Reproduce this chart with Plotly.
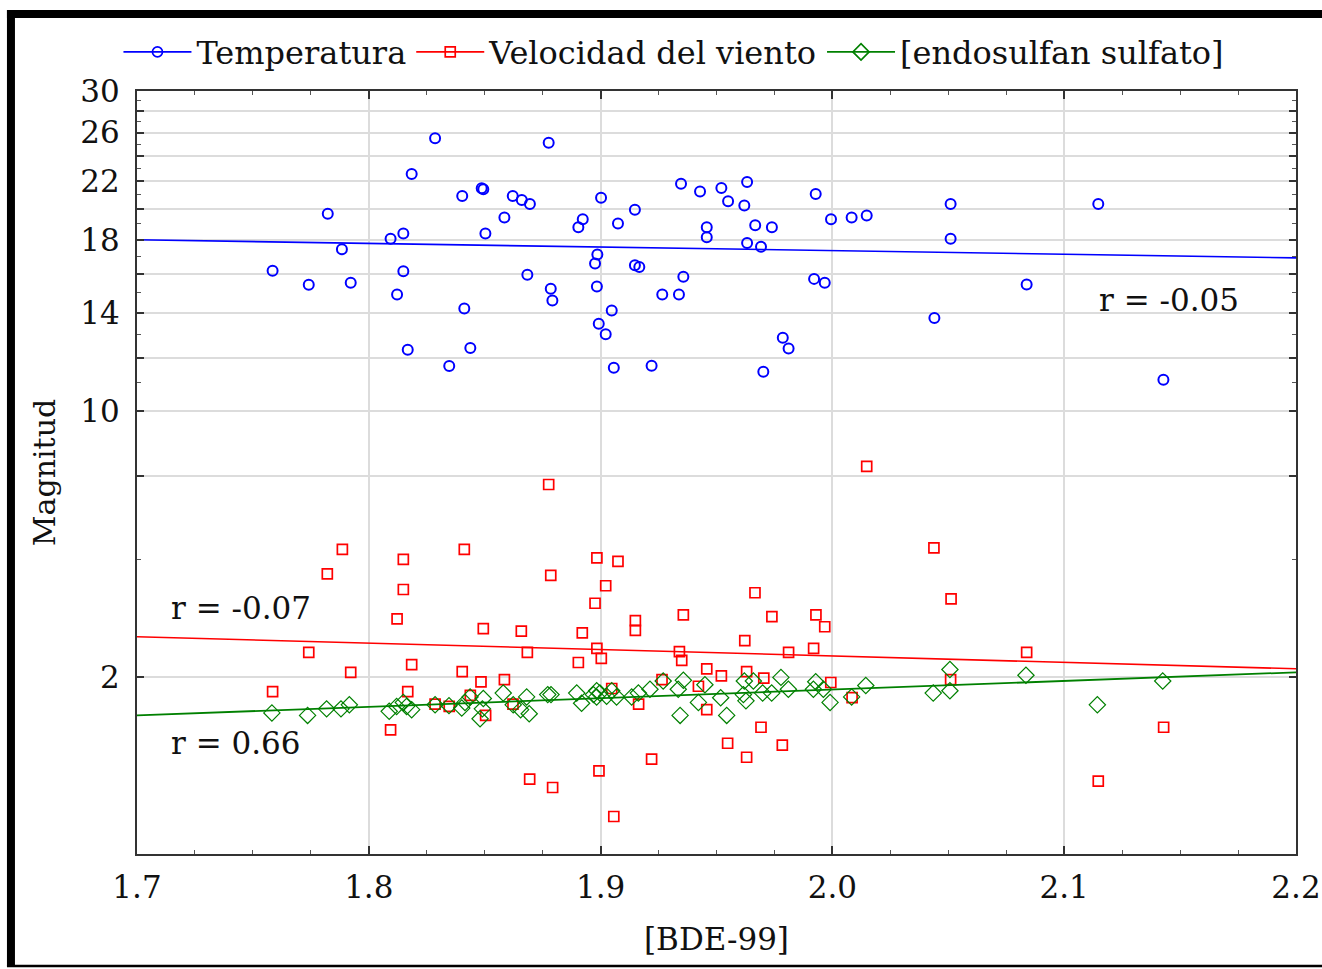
import plotly.graph_objects as go

# ---------------- data ----------------
temp_x = [1.8286, 1.8776, 1.8185, 1.7823, 1.8403, 1.8487, 1.8494, 1.8621, 1.8660, 1.8695,
          1.9002, 1.9347, 1.9429, 1.8585, 1.8923, 1.8904, 1.9075, 1.9148, 1.8149, 1.8094,
          1.8503, 1.7884, 1.7585, 1.7741, 1.7922, 1.8149, 1.8122, 1.8684, 1.8785, 1.8792,
          1.8986, 1.8976, 1.9148, 1.9167, 1.9357, 1.8984, 1.9266, 1.9338, 1.8412, 1.9048,
          1.8992, 1.9022, 1.8168, 1.8438, 1.8347, 1.9057, 1.9220, 1.9521, 1.9632, 1.9550,
          1.9620, 1.9928, 1.9458, 1.9458, 1.9667, 1.9739, 1.9994, 2.0083, 2.0148, 2.0510,
          2.1147, 2.0510, 1.9632, 1.9692, 1.9921, 1.9967, 2.0838, 2.0440, 1.9786, 1.9811,
          1.9702, 2.1428]
temp_y = [25.50, 25.12, 22.56, 19.67, 20.92, 21.48, 21.41, 20.92, 20.63, 20.35,
          20.78, 21.82, 21.24, 19.42, 19.31, 18.79, 19.02, 19.94, 18.38, 18.05,
          18.38, 17.42, 16.17, 15.41, 15.52, 16.15, 14.91, 15.95, 15.20, 14.60,
          17.10, 16.58, 16.49, 16.39, 15.84, 15.32, 14.91, 14.91, 14.21, 14.11,
          13.48, 13.01, 12.33, 12.40, 11.66, 11.59, 11.67, 21.50, 21.95, 20.54,
          20.24, 21.06, 18.79, 18.15, 18.92, 18.79, 19.31, 19.42, 19.55, 20.35,
          20.35, 18.05, 17.80, 17.56, 15.73, 15.52, 15.43, 13.75, 12.85, 12.38,
          11.43, 11.12]

wind_x = [1.8776, 1.7886, 1.7821, 1.8149, 1.8149, 1.8122, 1.8412, 1.8984, 1.9075, 1.8785,
          1.9022, 1.8976, 1.8494, 1.8658, 1.8921, 1.9150, 1.9150, 1.9357, 1.7741, 1.7922,
          1.8185, 1.8403, 1.8684, 1.8904, 1.8984, 1.9003, 1.9340, 1.9350, 1.8484, 1.8585,
          1.7585, 1.8168, 1.8438, 1.8286, 1.8347, 1.8622, 1.8504, 1.9048, 1.9265, 1.9422,
          1.9164, 1.8094, 1.9220, 1.8993, 1.8694, 1.8793, 1.9057, 2.0148, 2.0438, 2.0512,
          1.9666, 1.9739, 1.9929, 1.9967, 1.9622, 1.9811, 1.9919, 2.0838, 1.9458, 1.9521,
          1.9630, 1.9704, 1.9993, 2.0510, 2.0085, 1.9458, 1.9692, 1.9548, 1.9784, 1.9630,
          2.1429, 2.1147]
wind_y = [7.76, 6.21, 5.71, 6.00, 5.41, 4.89, 6.21, 6.03, 5.96, 5.68,
          5.48, 5.16, 4.73, 4.69, 4.66, 4.86, 4.70, 4.96, 4.36, 4.07,
          4.18, 4.08, 4.36, 4.21, 4.42, 4.27, 4.37, 4.24, 3.94, 3.97,
          3.81, 3.81, 3.76, 3.65, 3.62, 3.65, 3.51, 3.85, 3.97, 3.88,
          3.65, 3.34, 3.02, 2.90, 2.82, 2.74, 2.48, 8.26, 6.24, 5.24,
          5.35, 4.93, 4.96, 4.76, 4.54, 4.36, 4.42, 4.36, 4.12, 4.02,
          4.08, 3.99, 3.93, 3.97, 3.73, 3.58, 3.37, 3.19, 3.17, 3.04,
          3.37, 2.80]

endo_x = [1.7582, 1.7736, 1.7818, 1.7880, 1.7916, 1.8088, 1.8120, 1.8149, 1.8163, 1.8185,
          1.8286, 1.8346, 1.8401, 1.8415, 1.8437, 1.8494, 1.8480, 1.8490, 1.8580, 1.8623,
          1.8655, 1.8681, 1.8692, 1.8772, 1.8786, 1.8897, 1.8918, 1.8969, 1.8983, 1.8997,
          1.8983, 1.9026, 1.9048, 1.9069, 1.9134, 1.9163, 1.9213, 1.9270, 1.9335, 1.9357,
          1.9343, 1.9422, 1.9450, 1.9518, 1.9544, 1.9616, 1.9627, 1.9620, 1.9659, 1.9699,
          1.9738, 1.9778, 1.9810, 1.9918, 1.9928, 1.9961, 1.9990, 2.0083, 2.0144, 2.0435,
          2.0507, 2.0507, 2.0835, 2.1143, 2.1425]
endo_y = [3.54, 3.51, 3.59, 3.59, 3.64, 3.56, 3.62, 3.67, 3.62, 3.58,
          3.64, 3.63, 3.60, 3.67, 3.74, 3.72, 3.47, 3.59, 3.79, 3.64,
          3.58, 3.74, 3.53, 3.77, 3.77, 3.79, 3.66, 3.77, 3.74, 3.79,
          3.82, 3.75, 3.82, 3.74, 3.74, 3.79, 3.84, 3.95, 3.84, 3.96,
          3.51, 3.67, 3.90, 3.73, 3.51, 3.77, 3.69, 3.95, 3.95, 3.79,
          3.79, 4.00, 3.84, 3.84, 3.94, 3.84, 3.67, 3.74, 3.89, 3.79,
          4.11, 3.82, 4.03, 3.64, 3.95]

# fitted lines (end values)
fit_x = [1.7, 2.2]
temp_fit = [17.99, 16.91]
wind_fit = [4.60, 4.12]
endo_fit = [3.51, 4.07]

series_names = ["Temperatura", "Velocidad del viento", "[endosulfan sulfato]"]
r_labels = ["r = -0.05", "r = -0.07", "r = 0.66"]

x_ticks = [1.7, 1.8, 1.9, 2.0, 2.1, 2.2]
x_ticktext = ["1.7", "1.8", "1.9", "2.0", "2.1", "2.2"]
y_ticks = [4, 8, 10, 12, 14, 16, 18, 20, 22, 24, 26, 28, 30]
y_ticktext = ["2", "", "10", "", "14", "", "18", "", "22", "", "26", "", "30"]
y_minor = [6, 11, 13, 15, 17, 19, 21, 23, 25, 27, 29]

BLUE = "#0000ff"
RED = "#ff0000"
GREEN = "#008000"
FONT = "DejaVu Serif"
TXT = "#111111"

fig = go.Figure()

# data points
fig.add_trace(go.Scatter(x=temp_x, y=temp_y, mode="markers", showlegend=False,
                         marker=dict(symbol="circle-open", size=10, color=BLUE,
                                     line=dict(width=2, color=BLUE))))
fig.add_trace(go.Scatter(x=wind_x, y=wind_y, mode="markers", showlegend=False,
                         marker=dict(symbol="square-open", size=10, color=RED,
                                     line=dict(width=1.7, color=RED))))
fig.add_trace(go.Scatter(x=endo_x, y=endo_y, mode="markers", showlegend=False,
                         marker=dict(symbol="diamond-open", size=12.5, color=GREEN,
                                     line=dict(width=1.2, color=GREEN))))

# fitted lines
fig.add_trace(go.Scatter(x=fit_x, y=temp_fit, mode="lines", showlegend=False,
                         line=dict(color=BLUE, width=1.6)))
fig.add_trace(go.Scatter(x=fit_x, y=wind_fit, mode="lines", showlegend=False,
                         line=dict(color=RED, width=1.6)))
fig.add_trace(go.Scatter(x=fit_x, y=endo_fit, mode="lines", showlegend=False,
                         line=dict(color=GREEN, width=1.8)))

# legend entries
for name, col, sym, sz in [(series_names[0], BLUE, "circle-open", 10),
                           (series_names[1], RED, "square-open", 10),
                           (series_names[2], GREEN, "diamond-open", 12.5)]:
    fig.add_trace(go.Scatter(x=[None], y=[None], mode="lines+markers", name=name,
                             line=dict(color=col, width=1.6),
                             marker=dict(symbol=sym, size=sz, color=col,
                                         line=dict(width=1.7, color=col))))

fig.update_layout(
    width=1322, height=969,
    margin=dict(l=137, r=26, t=91, b=115, autoexpand=False),
    paper_bgcolor="white", plot_bgcolor="white",
    font=dict(family=FONT, size=30, color=TXT),
    showlegend=True,
    legend=dict(orientation="h", x=-0.016, xanchor="left", y=1.051, yanchor="middle",
                font=dict(family=FONT, size=32, color=TXT),
                bgcolor="rgba(0,0,0,0)", itemwidth=68, tracegroupgap=0),
)

fig.update_xaxes(
    range=[1.7, 2.2], tickmode="array", tickvals=x_ticks, ticktext=x_ticktext,
    ticks="inside", ticklen=8, tickwidth=1.5, tickcolor="#333333",
    ticklabelstandoff=5,
    tickfont=dict(family=FONT, size=31, color=TXT),
    showgrid=True, gridcolor="#dcdcdc", gridwidth=2, zeroline=False,
    showline=True, linecolor="#333333", linewidth=2, mirror="ticks",
    minor=dict(dtick=0.025, tick0=1.7, ticks="inside", ticklen=4, tickwidth=1,
               tickcolor="#555555", showgrid=False),
    title=dict(text="[BDE-99]", standoff=24,
               font=dict(family=FONT, size=31, color=TXT)),
    automargin=False,
)

fig.update_yaxes(
    type="log", range=[0.3385, 1.4771], tickmode="array", tickvals=y_ticks,
    ticktext=y_ticktext,
    ticks="inside", ticklen=7, tickwidth=1.5, tickcolor="#333333",
    ticklabelstandoff=9,
    tickfont=dict(family=FONT, size=31, color=TXT),
    showgrid=True, gridcolor="#dcdcdc", gridwidth=2, zeroline=False,
    showline=True, linecolor="#333333", linewidth=2, mirror="ticks",
    minor=dict(tickvals=y_minor, ticks="inside", ticklen=4, tickwidth=1,
               tickcolor="#555555", showgrid=False),
    title=dict(text="Magnitud", standoff=16,
               font=dict(family=FONT, size=30, color=TXT)),
    automargin=False,
)

# correlation labels
fig.add_annotation(text=r_labels[0], xref="paper", yref="paper", x=0.828, y=0.726,
                   xanchor="left", yanchor="middle", showarrow=False,
                   font=dict(family=FONT, size=31, color=TXT))
fig.add_annotation(text=r_labels[1], xref="paper", yref="paper", x=0.0275, y=0.322,
                   xanchor="left", yanchor="middle", showarrow=False,
                   font=dict(family=FONT, size=31, color=TXT))
fig.add_annotation(text=r_labels[2], xref="paper", yref="paper", x=0.0275, y=0.1455,
                   xanchor="left", yanchor="middle", showarrow=False,
                   font=dict(family=FONT, size=31, color=TXT))

# outer black frame (left and top thick bars, thin bottom line)
fig.add_shape(type="rect", xref="paper", yref="paper", x0=-0.1122, x1=-0.1053,
              y0=-0.1468, y1=1.1062, fillcolor="black", line=dict(width=0))
fig.add_shape(type="rect", xref="paper", yref="paper", x0=-0.1122, x1=1.03,
              y0=1.0957, y1=1.1062, fillcolor="black", line=dict(width=0))
fig.add_shape(type="line", xref="paper", yref="paper", x0=-0.1122, x1=1.03,
              y0=-0.1468, y1=-0.1468, line=dict(color="black", width=2.5))

fig.write_html("out.html")
